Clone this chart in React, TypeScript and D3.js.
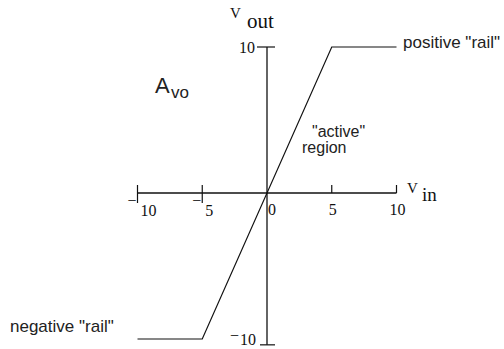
import React from "react";
import * as d3 from "d3";

// Op-amp transfer characteristic: output voltage vs. input voltage
const vin: number[] = [-10, -5, 5, 10];
const vout: number[] = [-10, -10, 10, 10];

const xTicks: number[] = [-10, -5, 0, 5, 10];
const xTickLabels: string[] = ["10", "5", "0", "5", "10"];
const yTicks: number[] = [10, -10];
const yTickLabels: string[] = ["10", "10"];
const xAxisExtent: number[] = [-10, 10];
const yAxisExtent: number[] = [-10.4, 10];

const W = 504;
const H = 349;

const x = d3.scaleLinear().domain([-10, 10]).range([137.5, 396.5]);
const y = d3.scaleLinear().domain([-10, 10]).range([339, 47]);

const serif = "'Liberation Serif', 'Times New Roman', serif";
const sans = "'Liberation Sans', Arial, Helvetica, sans-serif";
const ink = "#111";

export default function App() {
  const line = d3
    .line<number>()
    .x((_, i) => x(vin[i]))
    .y((d) => y(d));

  const x0 = x(0);
  const y0 = y(0);

  return (
    <svg
      width={W}
      height={H}
      style={{ position: "absolute", left: 0, top: 0, background: "#fff" }}
    >
      {/* axes */}
      <line x1={x(xAxisExtent[0])} x2={x(xAxisExtent[1])} y1={y0} y2={y0} stroke={ink} strokeWidth={1.3} />
      <line x1={x0} x2={x0} y1={y(yAxisExtent[1])} y2={y(yAxisExtent[0])} stroke={ink} strokeWidth={1.3} />

      {/* x ticks */}
      {xTicks.map((t, i) => {
        const tx = x(t);
        const neg = t < 0;
        return (
          <g key={"xt" + i}>
            {t !== 0 && (
              <line x1={tx} x2={tx} y1={y0 - 8} y2={neg ? y0 + 10 : y0} stroke={ink} strokeWidth={1.2} />
            )}
            {neg ? (
              <text x={tx - 10} y={216} fontFamily={serif} fontSize={16} fill={ink}>
                <tspan dy={-10}>−</tspan>
                <tspan dy={10} dx={4}>{xTickLabels[i]}</tspan>
              </text>
            ) : (
              <text
                x={tx + 1}
                y={215}
                textAnchor={t === 0 ? "start" : "middle"}
                fontFamily={serif}
                fontSize={16}
                fill={ink}
              >
                {xTickLabels[i]}
              </text>
            )}
          </g>
        );
      })}

      {/* y ticks */}
      {yTicks.map((t, i) => {
        const pos = t > 0;
        const ty = pos ? y(t) : y(yAxisExtent[0]);
        return (
          <g key={"yt" + i}>
            <line
              x1={pos ? x0 - 10 : x0 - 7}
              x2={x0 + 8}
              y1={ty}
              y2={ty}
              stroke={ink}
              strokeWidth={1.2}
            />
            {pos ? (
              <text x={x0 - 12} y={ty + 6} textAnchor="end" fontFamily={serif} fontSize={16} fill={ink}>
                {yTickLabels[i]}
              </text>
            ) : (
              <text x={x0 - 37} y={ty} fontFamily={serif} fontSize={16} fill={ink}>
                <tspan dy={-4}>−</tspan>
                <tspan dy={4} dx={1}>{yTickLabels[i]}</tspan>
              </text>
            )}
          </g>
        );
      })}

      {/* transfer curve */}
      <path d={line(vout) ?? ""} fill="none" stroke={ink} strokeWidth={1.2} />

      {/* axis titles */}
      <text fontFamily={serif} fill={ink}>
        <tspan x={230} y={18} fontSize={15}>V</tspan>
        <tspan x={247} y={28} fontSize={21}>out</tspan>
      </text>
      <text fontFamily={serif} fill={ink}>
        <tspan x={407} y={193} fontSize={15}>V</tspan>
        <tspan x={422} y={201} fontSize={19}>in</tspan>
      </text>

      {/* annotations */}
      <text fontFamily={sans} fill="#222">
        <tspan x={155} y={93} fontSize={22}>A</tspan>
        <tspan x={171} y={98} fontSize={17}>vo</tspan>
      </text>
      <text fontFamily={sans} fontSize={16} fill="#222">
        <tspan x={312} y={137}>"active"</tspan>
        <tspan x={302} y={153}>region</tspan>
      </text>
      <text x={403} y={48} fontFamily={sans} fontSize={17} fill="#222">
        positive "rail"
      </text>
      <text x={10} y={332} fontFamily={sans} fontSize={17} fill="#222">
        negative "rail"
      </text>
    </svg>
  );
}
